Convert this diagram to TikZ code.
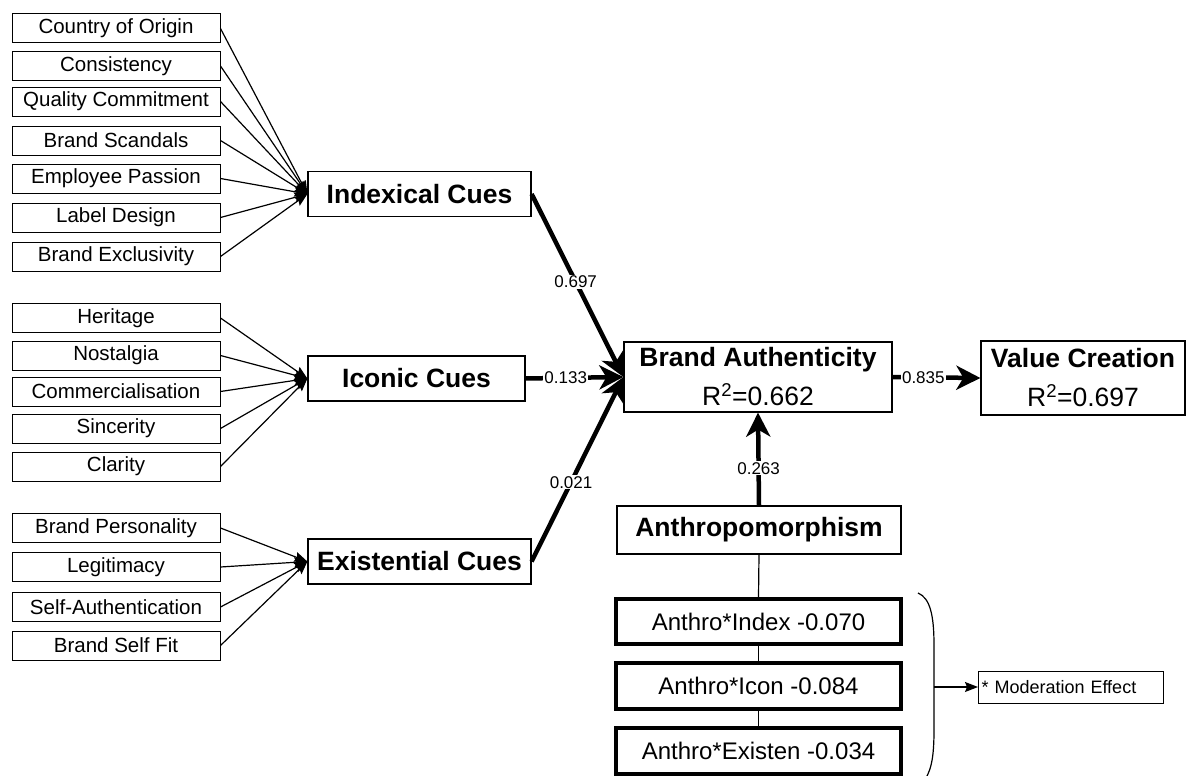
\documentclass[tikz,border=0pt]{standalone}
\usepackage{fontspec}
\setmainfont{Liberation Sans}
\usetikzlibrary{arrows.meta}
\begin{document}
\begin{tikzpicture}[x=1pt,y=-1pt,
  ind/.style={draw,line width=1pt,minimum width=208pt,minimum height=29pt,inner sep=0pt,
    font=\fontsize{20.5}{24}\selectfont},
  cue/.style={draw,line width=1.2pt,minimum height=45pt,inner sep=0pt,
    font=\fontsize{26.5}{30}\selectfont\bfseries},
  big/.style={draw,line width=1.2pt,inner sep=0pt,align=center,
    font=\fontsize{26.5}{39}\selectfont},
  modbox/.style={draw,line width=4pt,minimum width=285pt,minimum height=45pt,inner sep=0pt,
    font=\fontsize{24}{28}\selectfont},
  thin/.style={line width=1.2pt,-{Stealth[length=13pt,width=10pt,inset=2pt]}},
  thick/.style={line width=4.5pt,-{Stealth[length=24pt,width=24pt,inset=7pt]}},
  plain/.style={line width=1.2pt},
  coef/.style={fill=white,inner sep=1pt,font=\fontsize{17}{20}\selectfont}]
\useasboundingbox (0,0) rectangle (1194,776);

% indexical indicators
\node[ind] (i1) at (116,28.5) {Country of Origin};
\node[ind] (i2) at (116,66) {Consistency};
\node[ind] (i3) at (116,101.5) {Quality Commitment};
\node[ind] (i4) at (116,140.5) {Brand Scandals};
\node[ind] (i5) at (116,178.5) {Employee Passion};
\node[ind] (i6) at (116,217.5) {Label Design};
\node[ind] (i7) at (116,256.5) {Brand Exclusivity};

% iconic indicators
\node[ind] (c1) at (116,318) {Heritage};
\node[ind] (c2) at (116,355.5) {Nostalgia};
\node[ind] (c3) at (116,391.5) {Commercialisation};
\node[ind] (c4) at (116,428.5) {Sincerity};
\node[ind] (c5) at (116,466.5) {Clarity};

% existential indicators
\node[ind] (e1) at (116,528) {Brand Personality};
\node[ind] (e2) at (116,567) {Legitimacy};
\node[ind] (e3) at (116,607) {Self-Authentication};
\node[ind] (e4) at (116,645.5) {Brand Self Fit};

% constructs
\node[cue,minimum width=223pt] (idx) at (419.5,194) {Indexical Cues};
\node[cue,minimum width=217pt] (icn) at (416.5,378.5) {Iconic Cues};
\node[cue,minimum width=223pt] (exs) at (419.5,561.5) {Existential Cues};
\node[big,minimum width=268pt,minimum height=70pt] (ba) at (758,377)
  {\textbf{Brand Authenticity}\\R\textsuperscript{2}=0.662};
\node[big,minimum width=204pt,minimum height=74pt] (vc) at (1083,378)
  {\textbf{Value Creation}\\R\textsuperscript{2}=0.697};
\node[cue,minimum width=284pt,minimum height=48pt] (anth) at (759,530) {Anthropomorphism};

% interaction terms
\node[modbox] (m1) at (758.5,621.5) {Anthro*Index -0.070};
\node[modbox,minimum height=46pt] (m2) at (758.5,686) {Anthro*Icon -0.084};
\node[modbox,minimum height=46pt] (m3) at (758.5,751) {Anthro*Existen -0.034};
\node[draw,line width=1pt,anchor=west,text width=179pt,align=left,inner xsep=3pt,
  inner ysep=0pt,minimum height=32pt,font=\fontsize{18}{21}\selectfont] (mod) at (978,687)
  {* Moderation Effect};

% indicator arrows
\foreach \n in {i1,i2,i3,i4,i5,i6,i7} \draw[thin] (\n.east) -- (idx.west);
\foreach \n in {c1,c2,c3,c4,c5} \draw[thin] (\n.east) -- (icn.west);
\foreach \n in {e1,e2,e3,e4} \draw[thin] (\n.east) -- (exs.west);

% structural paths
\draw[thick] (idx.east) -- node[coef,pos=0.48] {0.697} (ba.west);
\draw[thick] (icn.east) -- node[coef,pos=0.41] {0.133} (ba.west);
\draw[thick] (exs.east) -- node[coef,pos=0.43] {0.021} (ba.west);
\draw[thick] (ba.east) -- node[coef,pos=0.35] {0.835} (vc.west);
\draw[thick] (anth.north) -- node[coef,pos=0.4] {0.263} (ba.south);

% moderator links
\draw[plain] (anth.south) -- (m1.north);
\draw[plain] (m1.south) -- (m2.north);
\draw[plain] (m2.south) -- (m3.north);

% closing bracket and note
\draw[plain] (918,593) .. controls (930,598) and (934,615) .. (934,645)
  -- (934,730) .. controls (934,758) and (931,768) .. (927,776);
\coordinate (br) at (934,687);
\draw[thin] (br) -- (mod.west);
\end{tikzpicture}
\end{document}
